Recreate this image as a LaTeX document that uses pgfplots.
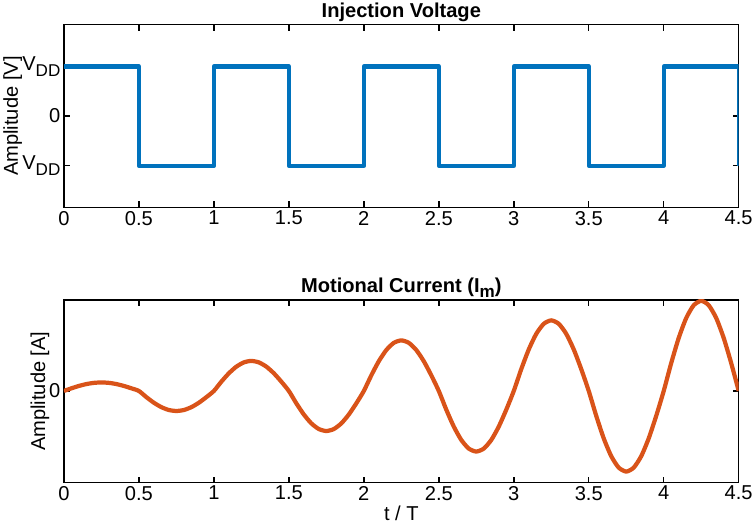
\documentclass[border=0pt]{standalone}
\usepackage{pgfplots}
\pgfplotsset{compat=1.18}
\usepackage{fontspec}
\setmainfont{Liberation Sans}

\definecolor{mblue}{RGB}{0,114,189}
\definecolor{morange}{RGB}{217,83,25}

\newcommand{\vdd}{V\raisebox{-6pt}{\fontsize{17}{18}\selectfont DD}}

\pgfplotsset{
  mstyle/.style={
    scale only axis,
    width=672pt, height=182pt,
    xmin=0, xmax=4.5,
    xtick={0,0.5,...,4.5},
    tick align=inside,
    major tick length=6pt,
    axis line style={line width=1.5pt},
    every tick/.style={line width=1.5pt, black},
    tick label style={font=\fontsize{20}{24}\selectfont},
    label style={font=\fontsize{20}{24}\selectfont},
    title style={font=\fontsize{20}{24}\selectfont\bfseries, yshift=-7pt},
    /pgf/number format/assume math mode=true,
    xticklabel style={/pgf/number format/fixed},
  }
}

\begin{document}
\begin{tikzpicture}
\begin{axis}[
    mstyle,
    ymin=-1.84, ymax=1.84,
    ytick={-1,0,1},
    yticklabels={\vdd, 0, \vdd},
    title={Injection Voltage},
    ylabel={Amplitude [V]},
    ylabel style={at={(axis description cs:0,0.5)}, anchor=center, yshift=51pt},
]
\addplot[mblue, line width=4.2pt, line join=round] coordinates {
    (0,1) (0.5,1) (0.5,-1) (1,-1) (1,1) (1.5,1) (1.5,-1) (2,-1) (2,1)
    (2.5,1) (2.5,-1) (3,-1) (3,1) (3.5,1) (3.5,-1) (4,-1) (4,1) (4.5,1) (4.5,-1)
};
\end{axis}

\begin{axis}[
    mstyle,
    at={(0,-274pt)},
    ymin=-91.5, ymax=91,
    ytick={0},
    title={Motional Current (I\raisebox{-5pt}{\fontsize{17}{18}\selectfont m})},
    ylabel={Amplitude [A]},
    ylabel style={at={(axis description cs:0,0.5)}, anchor=center, yshift=24pt},
    xlabel={t / T},
    xlabel style={yshift=1pt},
]
\addplot[morange, line width=4.2pt, smooth, tension=0.4] coordinates {
    (0,0) (0.05,2.63) (0.1,5.00) (0.15,6.88) (0.2,8.08) (0.25,8.5) (0.3,8.08) (0.35,6.88) (0.4,5.00) (0.45,2.63)
    (0.5,0) (0.55,-6.18) (0.6,-11.76) (0.65,-16.18) (0.7,-19.02) (0.75,-20) (0.8,-19.02) (0.85,-16.18) (0.9,-11.76) (0.95,-6.18)
    (1,0) (1.05,9.27) (1.1,17.64) (1.15,24.27) (1.2,28.53) (1.25,30) (1.3,28.53) (1.35,24.27) (1.4,17.64) (1.45,9.27)
    (1.5,0) (1.55,-12.36) (1.6,-23.52) (1.65,-32.36) (1.7,-38.04) (1.75,-40) (1.8,-38.04) (1.85,-32.36) (1.9,-23.52) (1.95,-12.36)
    (2,0) (2.05,15.60) (2.1,29.69) (2.15,40.85) (2.2,48.03) (2.25,50.5) (2.3,48.03) (2.35,40.85) (2.4,29.69) (2.45,15.60)
    (2.5,0) (2.55,-18.69) (2.6,-35.57) (2.65,-48.94) (2.7,-57.54) (2.75,-60.5) (2.8,-57.54) (2.85,-48.94) (2.9,-35.57) (2.95,-18.69)
    (3,0) (3.05,21.78) (3.1,41.45) (3.15,57.03) (3.2,67.05) (3.25,70.5) (3.3,67.05) (3.35,57.03) (3.4,41.45) (3.45,21.78)
    (3.5,0) (3.55,-24.87) (3.6,-47.33) (3.65,-65.12) (3.7,-76.56) (3.75,-80.5) (3.8,-76.56) (3.85,-65.12) (3.9,-47.33) (3.95,-24.87)
    (4,0) (4.05,27.81) (4.1,52.92) (4.15,72.81) (4.2,85.59) (4.25,90) (4.3,85.59) (4.35,72.81) (4.4,52.92) (4.45,27.81)
    (4.5,0)
};
\end{axis}
\end{tikzpicture}
\end{document}
